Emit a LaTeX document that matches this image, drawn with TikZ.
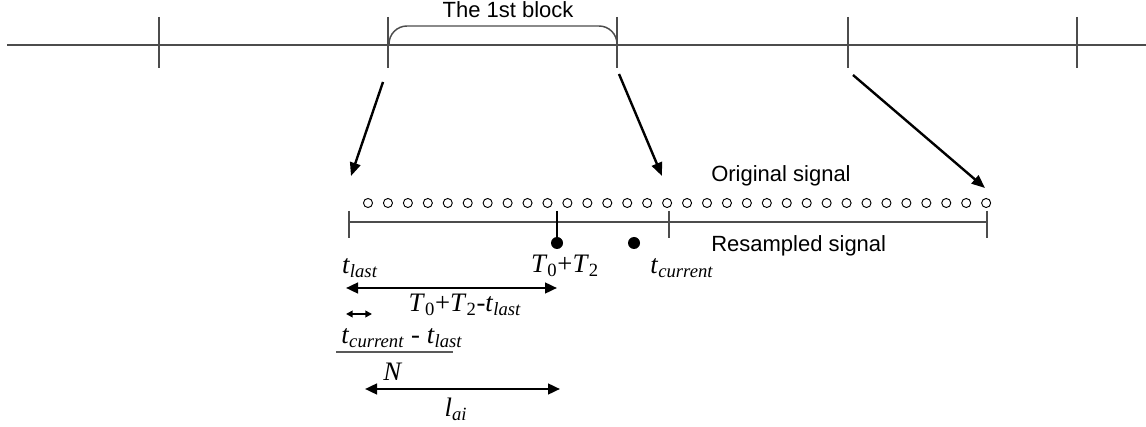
\documentclass[tikz,border=0pt]{standalone}
\usepackage{fontspec}
\setmainfont{Liberation Sans}
\newfontfamily\tnr{Liberation Serif}
\usetikzlibrary{arrows.meta}
\newcommand{\tsub}[2]{\textit{#1}\textsubscript{\textit{#2}}}

\begin{document}
\begin{tikzpicture}[x=0.75pt, y=-0.75pt,
    every node/.style={font=\fontsize{16.5}{20}\selectfont, inner sep=0pt},
    tlabel/.style={font=\fontsize{20}{24}\selectfont\tnr},
    axis/.style={line width=1.1pt, draw=black!70},
    bigarrow/.style={-{Triangle[length=10pt,width=8pt]}, line width=1.8pt},
    span/.style={{Triangle[length=9pt,width=8pt]}-{Triangle[length=9pt,width=8pt]}, line width=1.8pt},
    shortspan/.style={{Triangle[length=5pt,width=5pt]}-{Triangle[length=5pt,width=5pt]}, line width=1.4pt},
    sample/.style={circle, draw, line width=0.7pt, minimum size=6.8pt},
    resample/.style={circle, fill, minimum size=9pt}]
    \useasboundingbox (0,0) rectangle (1146,427);

    % upper time axis with the blocks
    \draw[axis] (7,45) -- (1146,45);
    \foreach \x/\n in {159/a,388/b,617/c,848/d,1077/e} {
        \draw[axis] (\x,17) -- (\x,68);
    }
    \draw[axis, rounded corners=13.5pt] (389,45) -- (389,26) -- (617,26) -- (617,45);
    \node (blk) at (508,10) {The 1st block};

    % original samples
    \foreach \i in {0,...,31}
        \node[sample] (s\i) at ({368+19.94*\i},203) {};
    \node[anchor=west] (orig) at (711,176) {Original signal};

    % resampled axis
    \draw[axis] (349,222) -- (987,222);
    \draw[axis] (349,211) -- (349,238);
    \draw[axis] (669,211) -- (669,238);
    \draw[axis] (987,211) -- (987,238);
    \node[anchor=west] (resm) at (711,246) {Resampled signal};

    \node[resample] (d1) at (557,243) {};
    \node[resample] (d2) at (634,243) {};
    \draw[line width=1.5pt] (557,211) -- (d1);

    % zoom arrows
    \coordinate (z1) at (383,82);
    \coordinate (z2) at (351,176);
    \coordinate (z3) at (619,74);
    \coordinate (z4) at (662,176);
    \coordinate (z5) at (853,75);
    \coordinate (z6) at (985,188);
    \draw[bigarrow] (z1) -- (z2);
    \draw[bigarrow] (z3) -- (z4);
    \draw[bigarrow] (z5) -- (z6);

    % time labels
    \node[tlabel] (tlast) at (360,268) {\tsub{t}{last}};
    \node[tlabel] (tt) at (565,266) {\textit{T}\textsubscript{0}+\textit{T}\textsubscript{2}};
    \node[tlabel] (tcur) at (682,268) {\tsub{t}{current}};

    % distances
    \coordinate (p1) at (346,288);
    \coordinate (p2) at (557,288);
    \draw[span] (p1) -- (p2);
    \node[tlabel] (dist) at (465,305) {\textit{T}\textsubscript{0}+\textit{T}\textsubscript{2}-\tsub{t}{last}};

    \coordinate (q1) at (346,314);
    \coordinate (q2) at (372,314);
    \draw[shortspan] (q1) -- (q2);
    \node[tlabel] (num) at (402,338) {\tsub{t}{current} - \tsub{t}{last}};
    \coordinate (f1) at (336,352);
    \coordinate (f2) at (453,352);
    \draw[line width=1.1pt, draw=black!65] (f1) -- (f2);
    \node[tlabel] (den) at (393,372) {\textit{N}};

    \coordinate (r1) at (365,389);
    \coordinate (r2) at (560,389);
    \draw[span] (r1) -- (r2);
    \node[tlabel] (lai) at (456,409) {\tsub{l}{ai}};
\end{tikzpicture}
\end{document}
